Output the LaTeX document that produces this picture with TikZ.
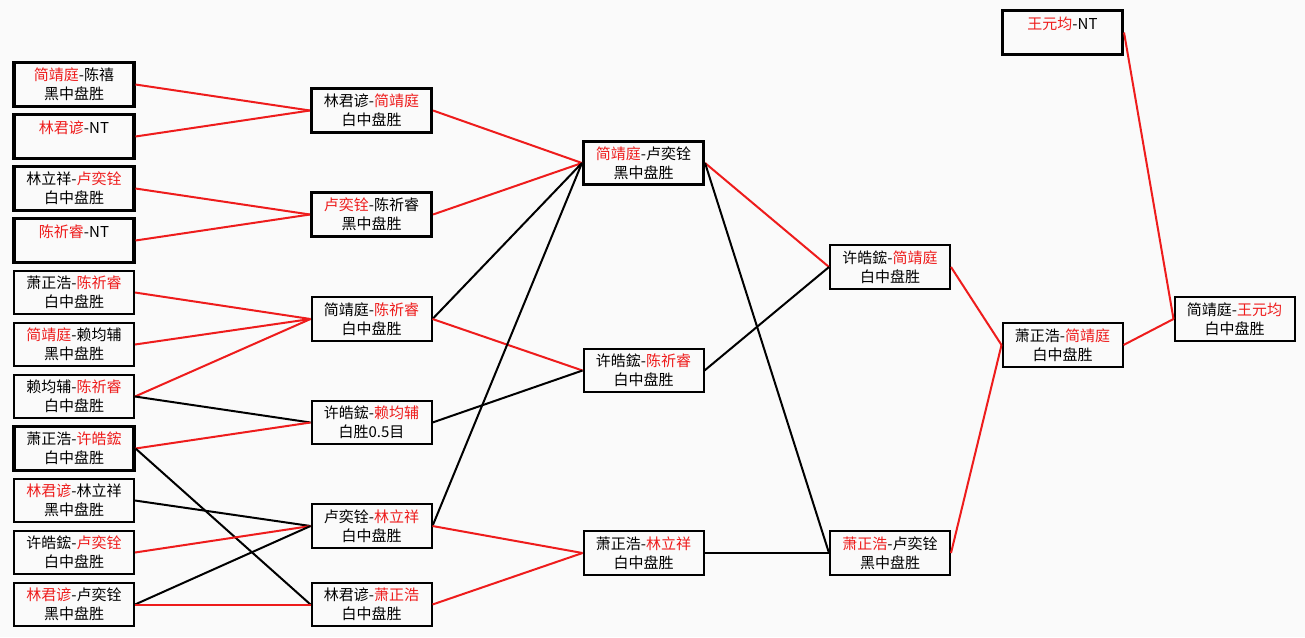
\documentclass[tikz,border=0pt]{standalone}
\usepackage{fontspec}
\setmainfont{Noto Sans CJK SC}
\usetikzlibrary{positioning}
\definecolor{winner}{HTML}{EE1C1C}
\definecolor{paper}{HTML}{FAFAFA}
\newcommand{\sheng}[1]{\textcolor{winner}{#1}}

\begin{document}
\begin{tikzpicture}[
  x=0.75pt, y=-0.75pt,
  font=\fontsize{11.25}{14.5}\selectfont,
  partie/.style={draw, line width=1.5pt, align=center, inner sep=0pt,
                 execute at begin node={\rule{0pt}{17pt}},
                 minimum width=90pt, minimum height=32.5pt, fill=paper},
  forte/.style={partie, line width=2.3pt},
  win/.style={winner, line width=1.5pt},
  link/.style={black, line width=1.5pt},
]
\fill[paper] (0,0) rectangle (1305,637);
% premier tour
\node[forte]  (a1)  at (74,84.5)  {\sheng{简靖庭}-陈禧\\黑中盘胜};
\node[forte]  (a2)  at (74,136.5) {\sheng{林君谚}-NT\\\mbox{}};
\node[forte]  (a3)  at (74,188.5) {林立祥-\sheng{卢奕铨}\\白中盘胜};
\node[forte]  (a4)  at (74,240.5) {\sheng{陈祈睿}-NT\\\mbox{}};
\node[partie] (a5)  at (74,292.5) {萧正浩-\sheng{陈祈睿}\\白中盘胜};
\node[partie] (a6)  at (74,344.5) {\sheng{简靖庭}-赖均辅\\黑中盘胜};
\node[partie] (a7)  at (74,396.5) {赖均辅-\sheng{陈祈睿}\\白中盘胜};
\node[forte]  (a8)  at (74,448.5) {萧正浩-\sheng{许皓鋐}\\白中盘胜};
\node[partie] (a9)  at (74,500.5) {\sheng{林君谚}-林立祥\\黑中盘胜};
\node[partie] (a10) at (74,552.5) {许皓鋐-\sheng{卢奕铨}\\白中盘胜};
\node[partie] (a11) at (74,604.5) {\sheng{林君谚}-卢奕铨\\黑中盘胜};
% deuxieme tour
\node[forte]  (b1) at (371.5,110.5) {林君谚-\sheng{简靖庭}\\白中盘胜};
\node[forte]  (b2) at (371.5,214.5) {\sheng{卢奕铨}-陈祈睿\\黑中盘胜};
\node[partie] (b3) at (371.5,319)   {简靖庭-\sheng{陈祈睿}\\白中盘胜};
\node[partie] (b4) at (371.5,422.5) {许皓鋐-\sheng{赖均辅}\\白胜0.5目};
\node[partie] (b5) at (371.5,526)   {卢奕铨-\sheng{林立祥}\\白中盘胜};
\node[partie] (b6) at (371.5,604.5) {林君谚-\sheng{萧正浩}\\白中盘胜};
% troisieme tour
\node[forte]  (c1) at (643.5,163)   {\sheng{简靖庭}-卢奕铨\\黑中盘胜};
\node[partie] (c2) at (643.5,370.5) {许皓鋐-\sheng{陈祈睿}\\白中盘胜};
\node[partie] (c3) at (643.5,553)   {萧正浩-\sheng{林立祥}\\白中盘胜};
% quatrieme tour
\node[partie] (d1) at (890,267) {许皓鋐-\sheng{简靖庭}\\白中盘胜};
\node[partie] (d2) at (890,553) {\sheng{萧正浩}-卢奕铨\\黑中盘胜};
% finale
\node[partie] (e1) at (1062.5,345) {萧正浩-\sheng{简靖庭}\\白中盘胜};
\node[forte]  (w)  at (1062.5,32.5) {\sheng{王元均}-NT\\\mbox{}};
\node[partie] (f1) at (1234.5,319) {简靖庭-\sheng{王元均}\\白中盘胜};
% liens
\draw[win] (a1.east) -- (b1.west);
\draw[win] (a2.east) -- (b1.west);
\draw[win] (a3.east) -- (b2.west);
\draw[win] (a4.east) -- (b2.west);
\draw[win] (a5.east) -- (b3.west);
\draw[win] (a6.east) -- (b3.west);
\draw[win] (a7.east) -- (b3.west);
\draw[link] (a7.east) -- (b4.west);
\draw[win] (a8.east) -- (b4.west);
\draw[link] (a8.east) -- (b6.west);
\draw[link] (a9.east) -- (b5.west);
\draw[win] (a10.east) -- (b5.west);
\draw[link] (a11.east) -- (b5.west);
\draw[win] (a11.east) -- (b6.west);
\draw[win] (b1.east) -- (c1.west);
\draw[win] (b2.east) -- (c1.west);
\draw[link] (b3.east) -- (c1.west);
\draw[win] (b3.east) -- (c2.west);
\draw[link] (b4.east) -- (c2.west);
\draw[link] (b5.east) -- (c1.west);
\draw[win] (b5.east) -- (c3.west);
\draw[win] (b6.east) -- (c3.west);
\draw[win] (c1.east) -- (d1.west);
\draw[link] (c1.east) -- (d2.west);
\draw[link] (c2.east) -- (d1.west);
\draw[link] (c3.east) -- (d2.west);
\draw[win] (d1.east) -- (e1.west);
\draw[win] (d2.east) -- (e1.west);
\draw[win] (e1.east) -- (f1.west);
\draw[win] (w.east) -- (f1.west);
\end{tikzpicture}
\end{document}
